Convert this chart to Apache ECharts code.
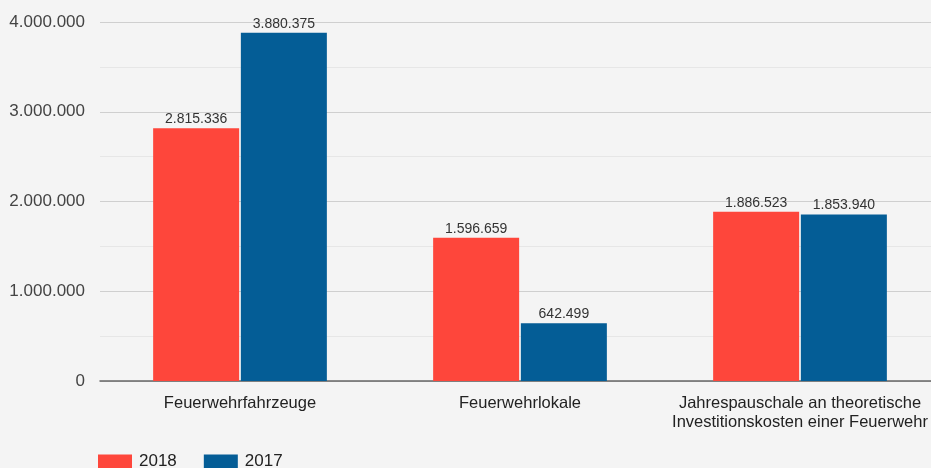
<!DOCTYPE html>
<html>
<head>
<meta charset="utf-8">
<script src="https://cdn.jsdelivr.net/npm/echarts@6/dist/echarts.min.js"></script>
<style>
  html, body { margin: 0; padding: 0; background: #f4f4f4; }
  #chart { width: 931px; height: 468px; }
</style>
</head>
<body>
<div id="chart"></div>
<script>
  const categories = ['Feuerwehrfahrzeuge', 'Feuerwehrlokale', 'Jahrespauschale an theoretische\nInvestitionskosten einer Feuerwehr']
  const values2018 = [2815336, 1596659, 1886523]
  const values2017 = [3880375, 642499, 1853940]
  const yTicks = [0, 1000000, 2000000, 3000000, 4000000]

  const fmt = v => String(v).replace(/\B(?=(\d{3})+(?!\d))/g, '.')
  const font = 'Liberation Sans, Arial, sans-serif'

  const myChart = echarts.init(document.getElementById('chart'))
  const option = {
    backgroundColor: '#f4f4f4',
    animation: false,
    textStyle: { fontFamily: font },
    legend: {
      left: 93,
      top: 448,
      itemWidth: 34,
      itemHeight: 14,
      itemGap: 27,
      icon: 'rect',
      textStyle: { fontSize: 17, color: '#222', fontFamily: font, padding: [0, 0, 0, 2] },
      data: ['2018', '2017']
    },
    grid: { left: 100, width: 840, top: 22, bottom: 87, outerBoundsMode: 'none', containLabel: false },
    xAxis: {
      type: 'category',
      data: categories,
      axisTick: { show: false },
      axisLine: { lineStyle: { color: '#666', width: 1.5 } },
      axisLabel: { interval: 0, fontSize: 16.5, color: '#222', margin: 13, lineHeight: 19, fontFamily: font }
    },
    yAxis: {
      type: 'value',
      min: yTicks[0],
      max: yTicks[yTicks.length - 1],
      interval: 1000000,
      axisLine: { show: false },
      axisTick: { show: false },
      axisLabel: { fontSize: 17, color: '#444', margin: 15, formatter: fmt, fontFamily: font },
      splitLine: { lineStyle: { color: '#cfcfcf' } },
      minorTick: { show: false, splitNumber: 2 },
      minorSplitLine: { show: true, lineStyle: { color: '#e6e6e6' } }
    },
    series: [
      {
        name: '2018',
        type: 'bar',
        data: values2018,
        barWidth: 86,
        barGap: '2%',
        itemStyle: { color: '#fe463b' },
        label: { show: true, position: 'top', distance: 2, fontSize: 14, color: '#333', formatter: p => fmt(p.value), fontFamily: font }
      },
      {
        name: '2017',
        type: 'bar',
        data: values2017,
        barWidth: 86,
        barGap: '2%',
        itemStyle: { color: '#045d96' },
        label: { show: true, position: 'top', distance: 2, fontSize: 14, color: '#333', formatter: p => fmt(p.value), fontFamily: font }
      }
    ]
  }
  myChart.setOption(option)
</script>
</body>
</html>
